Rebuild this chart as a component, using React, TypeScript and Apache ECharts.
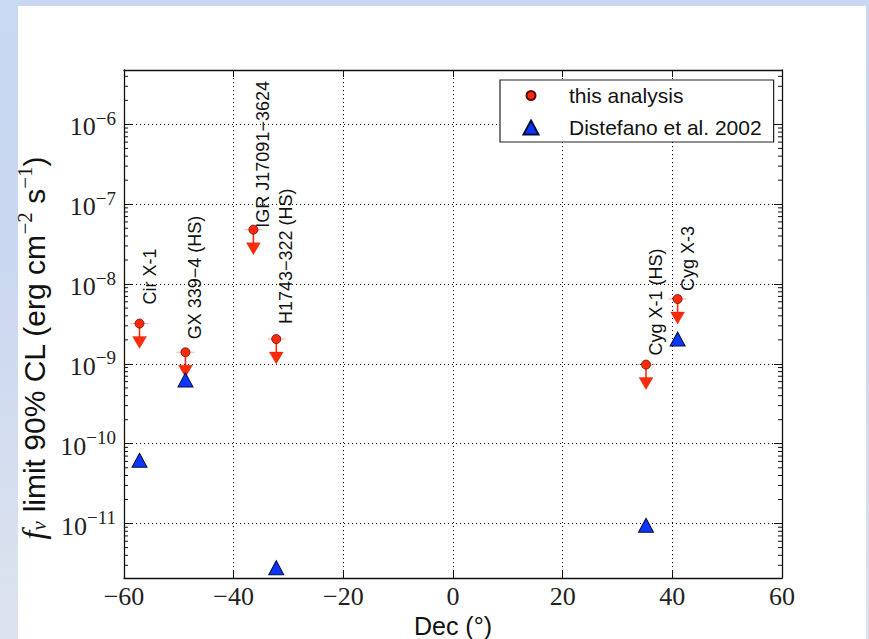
import React, { useEffect, useRef } from "react";
import * as echarts from "echarts";

// ---- data ----
const sourceNames = ["Cir X-1", "GX 339\u22124 (HS)", "IGR J17091\u22123624", "H1743\u2212322 (HS)", "Cyg X-1 (HS)", "Cyg X-3"];
const sourceDecs = [-57.17, -48.79, -36.4, -32.23, 35.2, 40.96];
const thisAnalysisFlux = [3.2e-9, 1.4e-9, 4.8e-8, 2.05e-9, 0.98e-9, 6.5e-9];

const distefanoDecs = [-57.17, -48.79, -32.23, 35.2, 40.96];
const distefanoFlux = [6.2e-11, 6.3e-10, 2.8e-12, 9.5e-12, 2.05e-9];

const xMin = -60;
const xMax = 60;
const xInterval = 20;
const yMin = 2.08e-12;
const yMax = 4.8e-6;
const minorMultipliers = [2, 3, 4, 5, 6, 7, 8, 9];
const decadeExponents = [-12, -11, -10, -9, -8, -7, -6];

// layout only: pixel gap between each point and the start of its rotated label
const labelGaps = [19, 13, 2, 15, 9, 8];

const RED = "#ff2a0a";
const BLUE = "#0a36ff";

export default function App() {
  const ref = useRef<HTMLDivElement>(null);

  useEffect(() => {
    if (!ref.current) return;
    const chart = echarts.init(ref.current, null, { renderer: "svg" });

    const redData = sourceDecs.map((d, i) => [d, thisAnalysisFlux[i]]);
    const blueData = distefanoDecs.map((d, i) => [d, distefanoFlux[i]]);
    const minorValues: number[] = [];
    decadeExponents.forEach((e) =>
      minorMultipliers.forEach((m) => {
        const v = m * Math.pow(10, e);
        if (v > yMin && v < yMax) minorValues.push(v);
      })
    );
    const minorData = minorValues.map((v) => [xMin, v]);

    const serif = "Liberation Serif";
    const sans = "Liberation Sans";

    const yLabelFormatter = (v: number) => {
      const e = Math.log10(v);
      const r = Math.round(e);
      if (Math.abs(e - r) > 0.01) return "";
      return `{b|10}{s|\u2212${Math.abs(r)}}`;
    };

    const axisLineStyle = { color: "#111", width: 1.3 };

    chart.setOption({
      animation: false,
      grid: { left: 124, right: 87, top: 70, bottom: 61, containLabel: false, outerBoundsMode: "none" },
      legend: {
        orient: "vertical",
        left: 500,
        top: 80,
        padding: [5, 12, 4, 22],
        itemGap: 11,
        itemWidth: 42,
        itemHeight: 15,
        borderColor: "#222",
        borderWidth: 1.2,
        backgroundColor: "#fff",
        textStyle: { fontFamily: sans, fontSize: 21, color: "#111", padding: [0, 0, 0, 12] },
        data: [
          {
            name: "this analysis",
            icon: "path://M0,0M15,15M12,7.5A4.5,4.5,0,1,1,3,7.5A4.5,4.5,0,1,1,12,7.5Z",
          },
          {
            name: "Distefano et al. 2002",
            icon: "path://M0,0M16,15M8,0.5L15.5,14.5L0.5,14.5Z",
          },
        ],
      },
      xAxis: [
        {
          type: "value",
          min: xMin,
          max: xMax,
          interval: xInterval,
          position: "bottom",
          axisLine: { show: true, onZero: false, lineStyle: axisLineStyle },
          axisTick: { show: true, inside: true, length: 7, lineStyle: { color: "#111" } },
          axisLabel: {
            margin: 5,
            fontFamily: serif,
            fontSize: 26,
            color: "#222",
            formatter: (v: number) => (v < 0 ? "\u2212" + Math.abs(v) : String(v)),
          },
          splitLine: { show: true, lineStyle: { color: "#000", type: [1, 3], width: 1 } },
          name: "Dec (\u00b0)",
          nameLocation: "middle",
          nameGap: 20,
          nameTextStyle: { fontFamily: sans, fontSize: 25, color: "#111", lineHeight: 25 },
        },
        {
          type: "value",
          min: xMin,
          max: xMax,
          interval: xInterval,
          position: "top",
          axisLine: { show: true, onZero: false, lineStyle: axisLineStyle },
          axisTick: { show: true, inside: true, length: 7, lineStyle: { color: "#111" } },
          axisLabel: { show: false },
          splitLine: { show: false },
        },
      ],
      yAxis: [
        {
          type: "log",
          logBase: 10,
          min: yMin,
          max: yMax,
          position: "left",
          axisLine: { show: true, onZero: false, lineStyle: axisLineStyle },
          axisTick: { show: true, inside: true, length: 8, lineStyle: { color: "#111" } },
          axisLabel: {
            margin: 8,
            showMinLabel: false,
            showMaxLabel: false,
            formatter: yLabelFormatter,
            rich: {
              b: { fontFamily: serif, fontSize: 26, color: "#222", verticalAlign: "bottom" },
              s: { fontFamily: serif, fontSize: 19, color: "#222", verticalAlign: "bottom", padding: [0, 0, 12, 0] },
            },
          },
          splitLine: { show: true, lineStyle: { color: "#000", type: [1, 3], width: 1 } },
          name: "{f|f}{n|\u03bd}{t| limit 90% CL (erg cm}{p|\u22122}{t| s}{p|\u22121}{t|)}",
          nameLocation: "middle",
          nameGap: 72,
          nameTextStyle: {
            padding: [0, 48, 0, 0],
            rich: {
              f: { fontFamily: serif, fontStyle: "italic", fontSize: 32, color: "#111", verticalAlign: "bottom" },
              n: { fontFamily: serif, fontStyle: "italic", fontSize: 21, color: "#111", verticalAlign: "bottom" },
              t: { fontFamily: sans, fontSize: 30, color: "#111", verticalAlign: "bottom" },
              p: { fontFamily: serif, fontSize: 21, color: "#111", verticalAlign: "bottom", padding: [0, 0, 14, 0] },
            },
          },
        },
        {
          type: "log",
          logBase: 10,
          min: yMin,
          max: yMax,
          position: "right",
          axisLine: { show: true, onZero: false, lineStyle: axisLineStyle },
          axisTick: { show: true, inside: true, length: 8, lineStyle: { color: "#111" } },
          axisLabel: { show: false },
          splitLine: { show: false },
        },
      ],
      series: [
        {
          name: "minor ticks",
          type: "custom",
          silent: true,
          z: 1,
          data: minorData,
          encode: { x: 0, y: 1 },
          renderItem: (params: any, api: any) => {
            const left = api.coord([xMin, api.value(1)]);
            const right = api.coord([xMax, api.value(1)]);
            return {
              type: "group",
              children: [
                { type: "line", shape: { x1: left[0], y1: left[1], x2: left[0] + 4, y2: left[1] }, style: { stroke: "#111", lineWidth: 1 } },
                { type: "line", shape: { x1: right[0] - 4, y1: right[1], x2: right[0], y2: right[1] }, style: { stroke: "#111", lineWidth: 1 } },
              ],
            };
          },
        },
        {
          name: "upper-limit arrows",
          type: "custom",
          silent: true,
          z: 2,
          data: redData,
          encode: { x: 0, y: 1 },
          renderItem: (params: any, api: any) => {
            const p = api.coord([api.value(0), api.value(1)]);
            return {
              type: "group",
              children: [
                { type: "line", shape: { x1: p[0] - 9, y1: p[1], x2: p[0] + 9, y2: p[1] }, style: { stroke: "rgba(255,70,40,0.45)", lineWidth: 1 } },
                { type: "line", shape: { x1: p[0], y1: p[1], x2: p[0], y2: p[1] + 14 }, style: { stroke: RED, lineWidth: 1.6 } },
                {
                  type: "polygon",
                  shape: { points: [[p[0] - 7, p[1] + 13], [p[0] + 7, p[1] + 13], [p[0], p[1] + 25]] },
                  style: { fill: RED, stroke: "rgba(160,20,0,0.5)", lineWidth: 0.5 },
                },
              ],
            };
          },
        },
        {
          name: "source labels",
          type: "custom",
          silent: true,
          z: 4,
          data: redData,
          encode: { x: 0, y: 1 },
          renderItem: (params: any, api: any) => {
            const i = params.dataIndex;
            const p = api.coord([api.value(0), api.value(1)]);
            return {
              type: "text",
              x: p[0] + 1,
              y: p[1] - labelGaps[i],
              rotation: Math.PI / 2,
              style: {
                text: sourceNames[i],
                fontFamily: sans,
                fontSize: 18,
                fill: "#111",
                align: "left",
                verticalAlign: "top",
              },
            };
          },
        },
        {
          name: "this analysis",
          type: "scatter",
          z: 3,
          symbol: "circle",
          symbolSize: 9,
          data: redData,
          itemStyle: { color: RED, borderColor: "#5a0a00", borderWidth: 0.8, opacity: 1 },
        },
        {
          name: "Distefano et al. 2002",
          type: "scatter",
          z: 3,
          symbol: "triangle",
          symbolSize: [15, 14],
          data: blueData,
          itemStyle: { color: BLUE, borderColor: "#06103a", borderWidth: 1, opacity: 1 },
        },
      ],
    });

    return () => chart.dispose();
  }, []);

  return (
    <div
      style={{
        position: "absolute",
        left: 0,
        top: 0,
        width: 869,
        height: 639,
        background:
          "linear-gradient(#ffffff, #ffffff) 18px 6px / 848px 633px no-repeat, linear-gradient(to bottom, #c9d8f3, #c9d7f0 40%, #dde3ee)",
      }}
    >
      <div ref={ref} style={{ width: 869, height: 639 }} />
    </div>
  );
}
